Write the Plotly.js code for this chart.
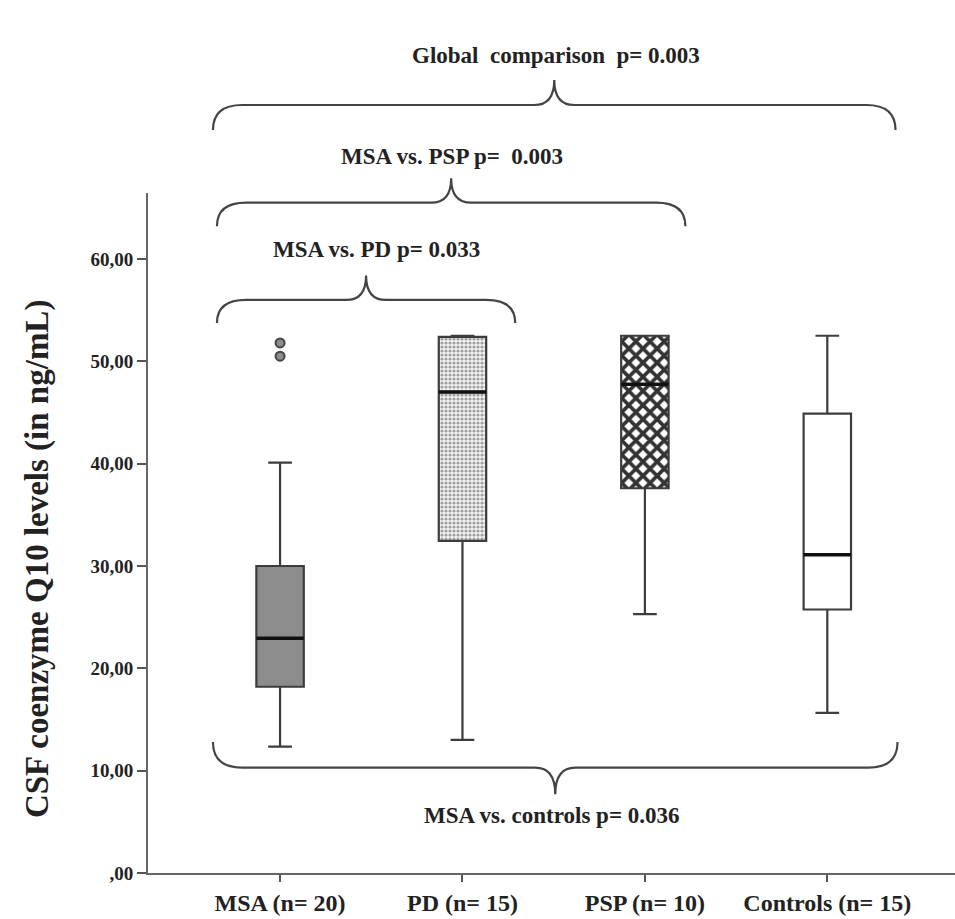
<!DOCTYPE html>
<html>
<head>
<meta charset="utf-8">
<script src="https://cdn.plot.ly/plotly-3.0.1.min.js"></script>
<style>html,body{margin:0;padding:0;background:#fff;}#chart{width:955px;height:919px;}</style>
</head>
<body>
<div id="chart"></div>
<script>
// ---- data ----
var categories = ['MSA (n= 20)', 'PD (n= 15)', 'PSP (n= 10)', 'Controls (n= 15)'];
var lowerWhisker = [12.35, 13.0, 25.3, 15.65];
var q1Values     = [18.2, 32.45, 37.6, 25.75];
var medianValues = [22.95, 47.0, 47.75, 31.1];
var q3Values     = [30.0, 52.4, 52.5, 44.9];
var upperWhisker = [40.1, 52.5, 52.5, 52.5];
var outlierGroup = ['MSA (n= 20)', 'MSA (n= 20)'];
var outlierValues = [50.5, 51.8];
var yTickVals = [0, 10, 20, 30, 40, 50, 60];
var yTickText = [',00', '10,00', '20,00', '30,00', '40,00', '50,00', '60,00'];
var comparisonLabels = ['Global\u00a0 comparison\u00a0 p= 0.003', 'MSA vs. PSP p=\u00a0 0.003', 'MSA vs. PD p= 0.033', 'MSA vs. controls p= 0.036'];

var Y_MAX = 66.45;
var FONT = 'Liberation Serif, Times New Roman, serif';
var LINE = '#3c3c3c';

// per-group body styles
var bodyStyles = [
  {color: '#8c8c8c', pattern: null},
  {color: '#ffffff', pattern: {shape: '.', fgcolor: '#a0a0a0', bgcolor: '#f4f4f4', size: 4, solidity: 0.5, fillmode: 'replace'}},
  {color: '#ffffff', pattern: {shape: 'x', fgcolor: '#333333', bgcolor: '#ffffff', size: 10, solidity: 0.6, fillmode: 'replace'}},
  {color: '#ffffff', pattern: null}
];

var traces = [];
categories.forEach(function (c, i) {
  var m = {color: bodyStyles[i].color, line: {width: 0}};
  if (bodyStyles[i].pattern) m.pattern = bodyStyles[i].pattern;
  traces.push({
    type: 'bar', x: [c], base: [q1Values[i]], y: [q3Values[i] - q1Values[i]],
    width: 0.26, marker: m, hoverinfo: 'skip', showlegend: false
  });
});
traces.push({
  type: 'box', x: categories, q1: q1Values, median: medianValues, q3: q3Values,
  lowerfence: lowerWhisker, upperfence: upperWhisker,
  width: 0.26, whiskerwidth: 0.5, fillcolor: 'rgba(0,0,0,0)',
  line: {color: LINE, width: 2.2}, boxpoints: false, showlegend: false
});
traces.push({
  type: 'box', x: categories, q1: medianValues, median: medianValues, q3: medianValues,
  lowerfence: medianValues, upperfence: medianValues,
  width: 0.26, whiskerwidth: 0, fillcolor: 'rgba(0,0,0,0)',
  line: {color: '#111', width: 3.5}, boxpoints: false, showlegend: false
});
traces.push({
  type: 'scatter', mode: 'markers', x: outlierGroup, y: outlierValues,
  marker: {symbol: 'circle', size: 9, color: '#8c8c8c', line: {color: '#444', width: 2}},
  showlegend: false
});

// bracket geometry (category-index units for x, data units for y)
var brackets = [
  {label: comparisonLabels[0], x0: -0.368, x1: 3.374, yEnd: 72.6, yFlat: 75.05, yTip: 77.5, yText: 79.9, xText: 1.51},
  {label: comparisonLabels[1], x0: -0.346, x1: 2.222, yEnd: 63.2, yFlat: 65.5, yTip: 67.9, yText: 70.0, xText: 0.944},
  {label: comparisonLabels[2], x0: -0.346, x1: 1.289, yEnd: 53.75, yFlat: 56.0, yTip: 58.4, yText: 60.9, xText: 0.527},
  {label: comparisonLabels[3], x0: -0.368, x1: 3.385, yEnd: 12.8, yFlat: 10.3, yTip: 7.7, yText: 5.6, xText: 1.49}
];
function py(v) { return v / Y_MAX; }
var shapes = [], annotations = [];
brackets.forEach(function (b) {
  var xm = (b.x0 + b.x1) / 2, dx = 0.16, dm = 0.11;
  var p = 'M' + b.x0 + ',' + py(b.yEnd) +
    ' Q' + b.x0 + ',' + py(b.yFlat) + ' ' + (b.x0 + dx) + ',' + py(b.yFlat) +
    ' L' + (xm - dm) + ',' + py(b.yFlat) +
    ' Q' + xm + ',' + py(b.yFlat) + ' ' + xm + ',' + py(b.yTip) +
    ' Q' + xm + ',' + py(b.yFlat) + ' ' + (xm + dm) + ',' + py(b.yFlat) +
    ' L' + (b.x1 - dx) + ',' + py(b.yFlat) +
    ' Q' + b.x1 + ',' + py(b.yFlat) + ' ' + b.x1 + ',' + py(b.yEnd);
  shapes.push({type: 'path', xref: 'x', yref: 'paper', path: p, line: {color: '#444', width: 2.2}, layer: 'above'});
  annotations.push({xref: 'x', yref: 'paper', x: b.xText, y: py(b.yText), text: b.label, showarrow: false,
    font: {family: FONT, size: 23, color: '#222', weight: 'bold'}, xanchor: 'center', yanchor: 'middle'});
});
annotations.push({xref: 'paper', yref: 'paper', x: -0.136, y: 0.462, textangle: -90,
  text: 'CSF coenzyme Q10 levels (in ng/mL)', showarrow: false,
  font: {family: FONT, size: 33, color: '#222', weight: 'bold'}, xanchor: 'center', yanchor: 'middle'});

var layout = {
  width: 955, height: 919,
  margin: {l: 148, r: 0, t: 193, b: 46},
  paper_bgcolor: '#fff', plot_bgcolor: '#fff',
  barmode: 'overlay', boxmode: 'overlay',
  showlegend: false,
  xaxis: {
    type: 'category', range: [-0.724, 3.70], showgrid: false, zeroline: false,
    showline: true, linecolor: '#666', linewidth: 2,
    ticks: 'outside', ticklen: 7, tickwidth: 2, tickcolor: '#555',
    tickfont: {family: FONT, size: 24, color: '#222', weight: 'bold'}
  },
  yaxis: {
    range: [0, Y_MAX], showgrid: false, zeroline: false,
    showline: true, linecolor: '#666', linewidth: 2,
    ticks: 'outside', ticklen: 9, tickwidth: 2, tickcolor: '#555',
    tickvals: yTickVals, ticktext: yTickText,
    tickfont: {family: FONT, size: 19, color: '#222', weight: 'bold'}
  },
  shapes: shapes,
  annotations: annotations
};
Plotly.newPlot('chart', traces, layout, {staticPlot: true});
</script>
</body>
</html>
